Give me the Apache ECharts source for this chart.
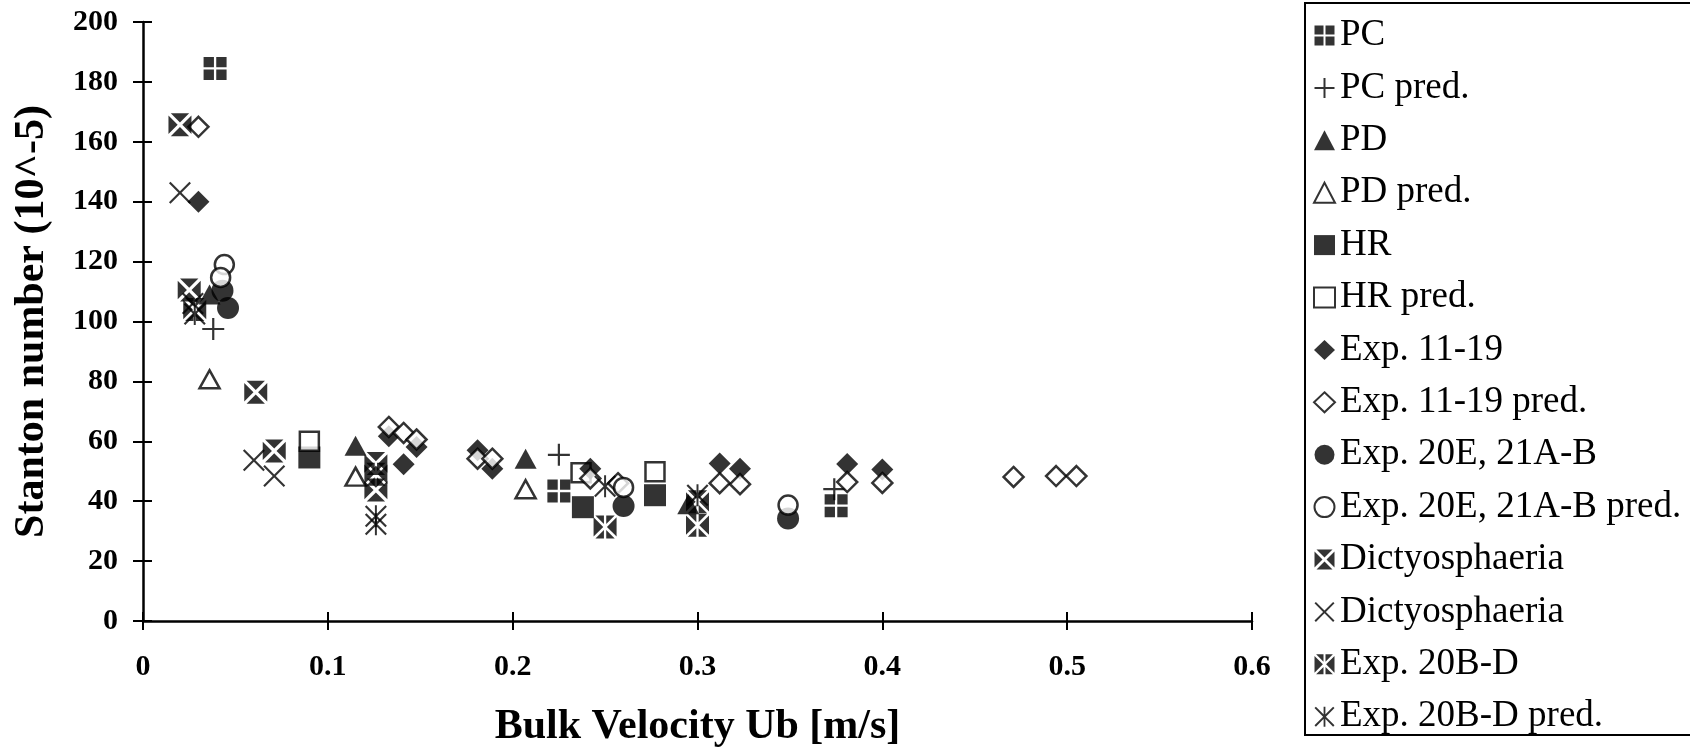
<!DOCTYPE html>
<html>
<head>
<meta charset="utf-8">
<script src="https://cdn.jsdelivr.net/npm/echarts@6/dist/echarts.min.js"></script>
<style>
html, body { margin: 0; padding: 0; background: #fff; }
#main { width: 1690px; height: 749px; }
</style>
</head>
<body>
<div id="main"></div>
<script>
// data: [bulk velocity, stanton number]
var pcData = [[0.039, 184.5], [0.225, 43.4], [0.375, 38.5]];
var pcPred = [[0.038, 97.5], [0.225, 55.5], [0.374, 44]];
var pdData = [[0.036, 109], [0.115, 58.5], [0.207, 54.2], [0.295, 39]];
var pdPred = [[0.036, 80.7], [0.115, 48.2], [0.207, 44]];
var hrData = [[0.09, 54.6], [0.238, 38], [0.277, 42]];
var hrPred = [[0.09, 60], [0.237, 49.5], [0.277, 49.8]];
var exp1119 = [[0.03, 140], [0.133, 61.7], [0.141, 52.3], [0.148, 58.1], [0.181, 57], [0.189, 50.8],
    [0.242, 50.8], [0.312, 52.6], [0.323, 50.8], [0.381, 52.4], [0.4, 50.6]];
var exp1119Pred = [[0.03, 165], [0.133, 64.8], [0.141, 62.8], [0.148, 60.6], [0.181, 54.2], [0.189, 54.2],
    [0.242, 47.6], [0.257, 46], [0.312, 46], [0.323, 45.7], [0.381, 46.4], [0.4, 46.1],
    [0.471, 48.1], [0.494, 48.4], [0.505, 48.4]];
var exp20E = [[0.043, 110.3], [0.046, 104.5], [0.26, 38.4], [0.349, 34.2]];
var exp20EPred = [[0.044, 119], [0.042, 114.7], [0.26, 44.6], [0.349, 38.7]];
var dicty = [[0.02, 165.7], [0.025, 110.5], [0.061, 76.4], [0.071, 56.8], [0.126, 52.6], [0.126, 43.7]];
var dictyPred = [[0.02, 143], [0.027, 106], [0.06, 53.7], [0.071, 48.4]];
var exp20BD = [[0.028, 104], [0.126, 49], [0.25, 31.4], [0.3, 39.8], [0.3, 32]];
var exp20BDPred = [[0.028, 102.5], [0.126, 35], [0.126, 32.3], [0.25, 45], [0.3, 42]];

var xTicks = { min: 0, max: 0.6, interval: 0.1 };
var yTicks = { min: 0, max: 200, interval: 20 };

// symbols
var SYM_PC = 'path://M0,0H9V9H0Z M11,0H20V9H11Z M0,11H9V20H0Z M11,11H20V20H11Z';
var SYM_PLUS = 'path://M9,0H11V20H9Z M0,9H20V11H0Z';
var SYM_BOXX = 'path://M2,0H18L10,8Z M20,2V18L12,10Z M18,20H2L10,12Z M0,18V2L8,10Z';
var SYM_X = 'path://M0,1.4L1.4,0L10,8.6L18.6,0L20,1.4L11.4,10L20,18.6L18.6,20L10,11.4L1.4,20L0,18.6L8.6,10Z';
var SYM_BOXSTAR = 'path://M1.6,0H9V7.4Z M11,0H18.4L11,7.4Z M20,1.6V18.4L11.6,10Z M0,1.6L8.4,10L0,18.4Z M11,20V12.6L18.4,20Z M9,20H1.6L9,12.6Z';
var SYM_STAR = 'path://M0,1.4L1.4,0L10,8.6L18.6,0L20,1.4L11.4,10L20,18.6L18.6,20L10,11.4L1.4,20L0,18.6L8.6,10Z M9.1,0H10.9V20H9.1Z';

var font = 'Liberation Serif';
var filled = { color: '#000' };
var open = { color: '#fff', borderColor: '#000', borderWidth: 2.5 };

function sc(name, data, symbol, size, style) {
    return {
        name: name,
        type: 'scatter',
        data: data,
        symbol: symbol,
        symbolSize: size,
        itemStyle: style,
        emphasis: { disabled: true }
    };
}

var myChart = echarts.init(document.getElementById('main'));

var option = {
    animation: false,
    backgroundColor: '#fff',
    grid: { left: 143, right: 438, top: 22, bottom: 128, outerBoundsMode: 'none' },
    graphic: [{
        type: 'rect',
        shape: { x: 1305, y: 3, width: 400, height: 732 },
        style: { fill: 'none', stroke: '#000', lineWidth: 2 }
    }],
    legend: {
        orient: 'vertical',
        left: 1308,
        top: 12,
        itemWidth: 21,
        itemHeight: 20,
        itemGap: 15.4,
        textStyle: { fontFamily: font, fontSize: 37, color: '#000', lineHeight: 36 },
        data: ['PC', 'PC pred.', 'PD', 'PD pred.', 'HR', 'HR pred.', 'Exp. 11-19', 'Exp. 11-19 pred.',
            'Exp. 20E, 21A-B', 'Exp. 20E, 21A-B pred.', 'Dictyosphaeria', 'Dictyosphaeria ',
            'Exp. 20B-D', 'Exp. 20B-D pred.']
    },
    xAxis: [{
        type: 'value',
        min: xTicks.min, max: xTicks.max, interval: xTicks.interval,
        name: 'Bulk Velocity Ub [m/s]',
        nameLocation: 'middle',
        nameGap: 85,
        nameTextStyle: { fontFamily: font, fontWeight: 'bold', fontSize: 42, color: '#000' },
        splitLine: { show: false },
        axisLine: { show: true, onZero: false, lineStyle: { color: '#000', width: 2.5 } },
        axisTick: { show: true, length: 9, lineStyle: { color: '#000', width: 2 } },
        axisLabel: { margin: 31, fontFamily: font, fontWeight: 'bold', fontSize: 30, color: '#000' }
    }, {
        // inner half of the crossing ticks
        type: 'value',
        min: xTicks.min, max: xTicks.max, interval: xTicks.interval,
        position: 'bottom',
        splitLine: { show: false },
        axisLine: { show: false },
        axisTick: { show: true, inside: true, length: 9, lineStyle: { color: '#000', width: 2 } },
        axisLabel: { show: false }
    }],
    yAxis: [{
        type: 'value',
        min: yTicks.min, max: yTicks.max, interval: yTicks.interval,
        name: 'Stanton number (10^-5)',
        nameLocation: 'middle',
        nameGap: 90,
        nameTextStyle: { fontFamily: font, fontWeight: 'bold', fontSize: 42, color: '#000' },
        splitLine: { show: false },
        axisLine: { show: true, onZero: false, lineStyle: { color: '#000', width: 2.5 } },
        axisTick: { show: true, length: 10, lineStyle: { color: '#000', width: 2 } },
        axisLabel: { margin: 25, fontFamily: font, fontWeight: 'bold', fontSize: 30, color: '#000' }
    }, {
        type: 'value',
        min: yTicks.min, max: yTicks.max, interval: yTicks.interval,
        position: 'left',
        splitLine: { show: false },
        axisLine: { show: false },
        axisTick: { show: true, inside: true, length: 9, lineStyle: { color: '#000', width: 2 } },
        axisLabel: { show: false }
    }],
    series: [
        sc('PC', pcData, SYM_PC, [23, 23], filled),
        sc('PC pred.', pcPred, SYM_PLUS, [22, 22], filled),
        sc('PD', pdData, 'triangle', [22, 20], filled),
        sc('PD pred.', pdPred, 'triangle', [20, 18], open),
        sc('HR', hrData, 'rect', [22, 22], filled),
        sc('HR pred.', hrPred, 'rect', [19, 19], open),
        sc('Exp. 11-19', exp1119, 'diamond', [22, 22], filled),
        sc('Exp. 11-19 pred.', exp1119Pred, 'diamond', [20, 20], open),
        sc('Exp. 20E, 21A-B', exp20E, 'circle', 22, filled),
        sc('Exp. 20E, 21A-B pred.', exp20EPred, 'circle', 19, open),
        sc('Dictyosphaeria', dicty, SYM_BOXX, [23, 23], filled),
        sc('Dictyosphaeria ', dictyPred, SYM_X, [22, 22], filled),
        sc('Exp. 20B-D', exp20BD, SYM_BOXSTAR, [23, 23], filled),
        sc('Exp. 20B-D pred.', exp20BDPred, SYM_STAR, [22, 22], filled)
    ]
};

myChart.setOption(option);
</script>
</body>
</html>
